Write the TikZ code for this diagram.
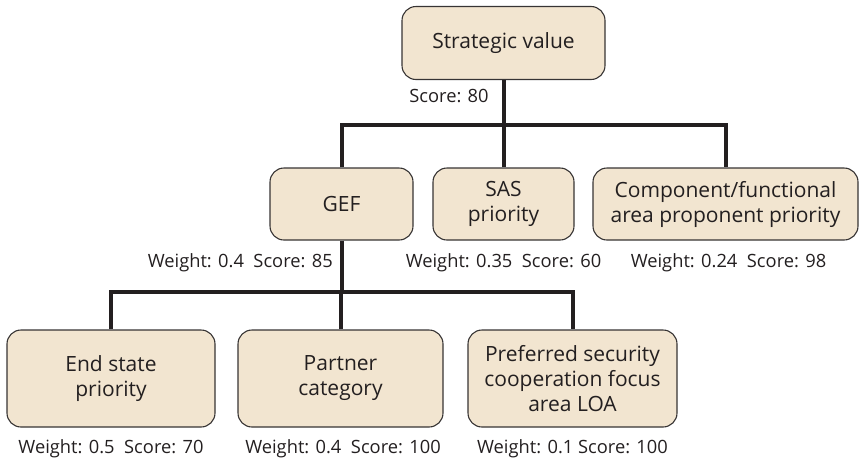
\documentclass[tikz,border=0pt]{standalone}
\usepackage{fontspec}
\setmainfont{Open Sans}
\definecolor{boxfill}{RGB}{242,229,208}
\definecolor{boxline}{RGB}{55,52,52}
\definecolor{treeline}{RGB}{35,31,32}
\tikzset{
  box/.style={draw=boxline, line width=1.1pt, fill=boxfill, rounded corners=14pt,
    align=center, inner sep=0pt, text=treeline},
  tree/.style={draw=treeline, line width=4pt},
  lbl/.style={font=\fontsize{18.3}{22}\selectfont, inner sep=0pt, text=treeline, anchor=base}
}
\begin{document}
\begin{tikzpicture}[x=1pt, y=-1pt, font=\fontsize{21}{25}\selectfont]
    \useasboundingbox (0,0) rectangle (861,461);

    % level 1
    \node[box, minimum width=203pt, minimum height=73pt] (top) at (503.5,43) {Strategic value};

    % level 2
    \node[box, minimum width=143pt, minimum height=72pt] (gef) at (341.5,204) {GEF};
    \node[box, minimum width=141pt, minimum height=72pt] (sas) at (503.5,204) {SAS\\priority};
    \node[box, minimum width=265pt, minimum height=72pt] (comp) at (725.5,204) {Component/functional\\area proponent priority};

    % level 3
    \node[box, minimum width=208pt, minimum height=97pt] (endst) at (111,378.5) {End state\\priority};
    \node[box, minimum width=205pt, minimum height=97pt] (partner) at (340.5,378.5) {Partner\\category};
    \node[box, minimum width=209pt, minimum height=97pt] (pref) at (572.5,378.5) {Preferred security\\cooperation focus\\area LOA};

    % connectors
    \coordinate (bar1) at (503.5,125);
    \coordinate (bar2) at (341.5,292);
    \draw[tree] (top.south) -- (bar1);
    \draw[tree] (gef.north) |- (bar1) -| (comp.north);
    \draw[tree] (sas.north) -- (sas.north|-bar1);
    \draw[tree] (gef.south) -- (bar2);
    \draw[tree] (endst.north) |- (bar2) -| (pref.north);
    \draw[tree] (partner.north) -- (partner.north|-bar2);

    % weights and scores
    \node[lbl] (ltop) at (449,102) {Score: 80};
    \node[lbl, anchor=base east] (lgef) at (333,267) {Weight: 0.4\ \ Score: 85};
    \node[lbl] (lsas) at (503.5,267) {Weight: 0.35\ \ Score: 60};
    \node[lbl] (lcomp) at (728.5,267) {Weight: 0.24\ \ Score: 98};
    \node[lbl] (lendst) at (111,453) {Weight: 0.5\ \ Score: 70};
    \node[lbl] (lpartner) at (343,453) {Weight: 0.4\ \ Score: 100};
    \node[lbl] (lpref) at (572.5,453) {Weight: 0.1 Score: 100};
\end{tikzpicture}
\end{document}
